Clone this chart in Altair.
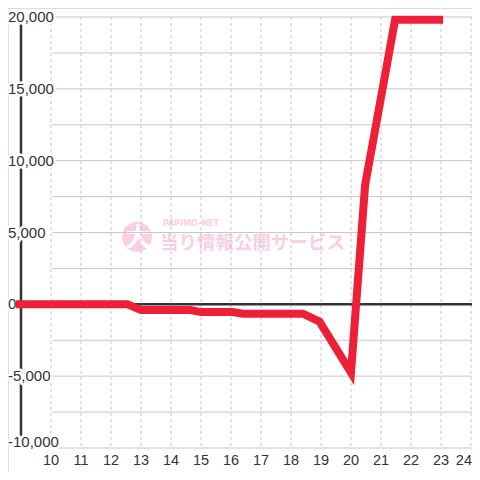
import altair as alt
import pandas as pd

# ---- data ----
hours = [8.83, 12.55, 13.0, 14.65, 15.0, 16.05, 16.4, 18.4, 18.95, 20.0, 20.47, 21.47, 23.07]
values = [0, 0, -400, -400, -540, -540, -650, -650, -1200, -4750, 8300, 19800, 19800]

x_ticks = [10, 11, 12, 13, 14, 15, 16, 17, 18, 19, 20, 21, 22, 23, 24]
y_ticks = [20000, 15000, 10000, 5000, 0, -5000, -10000]
y_tick_labels = ["20,000", "15,000", "10,000", "5,000", "0", "-5,000", "-10,000"]
y_grid = [20000, 17500, 15000, 12500, 10000, 7500, 5000, 2500,
          -2500, -5000, -7500, -10000]

W, H = 464, 464
XD = [8.5667, 24.0333]
YD = [-11670.4, 20626.4]
FONT = "Liberation Sans"
LABEL_COLOR = "#333333"

xs = alt.Scale(domain=XD, nice=False, zero=False)
ys = alt.Scale(domain=YD, nice=False, zero=False)


def X(f):
    return alt.X(f, type="quantitative", scale=xs, axis=None)


def Y(f):
    return alt.Y(f, type="quantitative", scale=ys, axis=None)


series = pd.DataFrame({"h": hours, "v": values})
hgrid = pd.DataFrame({"v": y_grid, "x1": [10.05] * len(y_grid), "x2": [XD[1]] * len(y_grid)})
vgrid = pd.DataFrame({"h": x_ticks, "y1": [20000] * len(x_ticks), "y2": [-10000] * len(x_ticks)})
axis_df = pd.DataFrame({"h": [9], "y1": [20000], "y2": [-10000]})
zero_df = pd.DataFrame({"v": [0], "x1": [9], "x2": [XD[1]]})
ylab = pd.DataFrame({"v": y_ticks, "t": y_tick_labels})
xlab = pd.DataFrame({"h": x_ticks, "t": [str(t) for t in x_ticks]})

# ---- watermark ----
wm_pink = "#f9cfe2"
wm_circle = alt.Chart(pd.DataFrame({"a": [1]})).mark_circle(
    size=900, color=wm_pink, opacity=1
).encode(x=alt.value(129), y=alt.value(229))
wm_big = alt.Chart(pd.DataFrame({"t": ["大"]})).mark_text(
    font="Noto Sans CJK JP", fontWeight="bold", fontSize=25, color="white",
    align="center", baseline="middle"
).encode(x=alt.value(130), y=alt.value(230), text="t:N")
wm_small = alt.Chart(pd.DataFrame({"t": ["PAPIMO-NET"]})).mark_text(
    font="DejaVu Sans", fontWeight="bold", fontSize=8, color=wm_pink,
    align="left", baseline="middle"
).encode(x=alt.value(155), y=alt.value(215.5), text="t:N")
wm_main = alt.Chart(pd.DataFrame({"t": ["当り情報公開サービス"]})).mark_text(
    font="Noto Sans CJK JP", fontWeight="bold", fontSize=18.5, color=wm_pink,
    align="left", baseline="middle"
).encode(x=alt.value(152), y=alt.value(235), text="t:N")

# ---- grid ----
hg = alt.Chart(hgrid).mark_rule(color="#c8c8c8", strokeWidth=1).encode(
    y=Y("v"), x=X("x1"), x2="x2")
vg = alt.Chart(vgrid).mark_rule(color="#c4c4c4", strokeWidth=1, strokeDash=[3, 3]).encode(
    x=X("h"), y=Y("y1"), y2="y2")
axis_line = alt.Chart(axis_df).mark_rule(color="#333333", strokeWidth=2.5).encode(
    x=X("h"), y=Y("y1"), y2="y2")


# y labels (halo + text); bottom label shifted up
def ylabels(halo):
    kw = dict(font=FONT, fontSize=15, align="left", baseline="middle")
    if halo:
        kw.update(fill="white", stroke="white", strokeWidth=5, strokeJoin="round")
    else:
        kw.update(color=LABEL_COLOR)
    top = alt.Chart(ylab).transform_filter("datum.v > -10000").mark_text(**kw).encode(
        y=Y("v"), x=alt.value(0), text="t:N")
    bot = alt.Chart(ylab).transform_filter("datum.v <= -10000").mark_text(dy=-6, **kw).encode(
        y=Y("v"), x=alt.value(0), text="t:N")
    return top + bot


zero_line = alt.Chart(zero_df).mark_rule(color="#333333", strokeWidth=2.5).encode(
    y=Y("v"), x=X("x1"), x2="x2")

line = alt.Chart(series).mark_line(color="#ee2038", strokeWidth=8, strokeCap="butt",
                                   strokeJoin="miter").encode(
    x=X("h"), y=Y("v"), order="h:Q")

xl_kw = dict(font=FONT, fontSize=14.5, color=LABEL_COLOR, baseline="middle")
xl = alt.Chart(xlab).transform_filter("datum.h < 24").mark_text(align="center", **xl_kw).encode(
    x=X("h"), y=alt.value(453), text="t:N")
# last label would fall past the page edge: keep it, flush right inside the chart
xl_last = alt.Chart(xlab).transform_filter("datum.h >= 24").mark_text(align="right", **xl_kw).encode(
    x=alt.value(W), y=alt.value(453), text="t:N")

chart = alt.layer(
    wm_circle, wm_big, wm_small, wm_main,
    hg, vg, axis_line, ylabels(True), zero_line, line, ylabels(False), xl, xl_last
).properties(
    width=W, height=H,
    autosize=alt.AutoSizeParams(type="none"),
    padding=0,
).configure_view(stroke=None).configure(background="white")

chart.save("out.html", embed_options={"renderer": "svg", "actions": False})
